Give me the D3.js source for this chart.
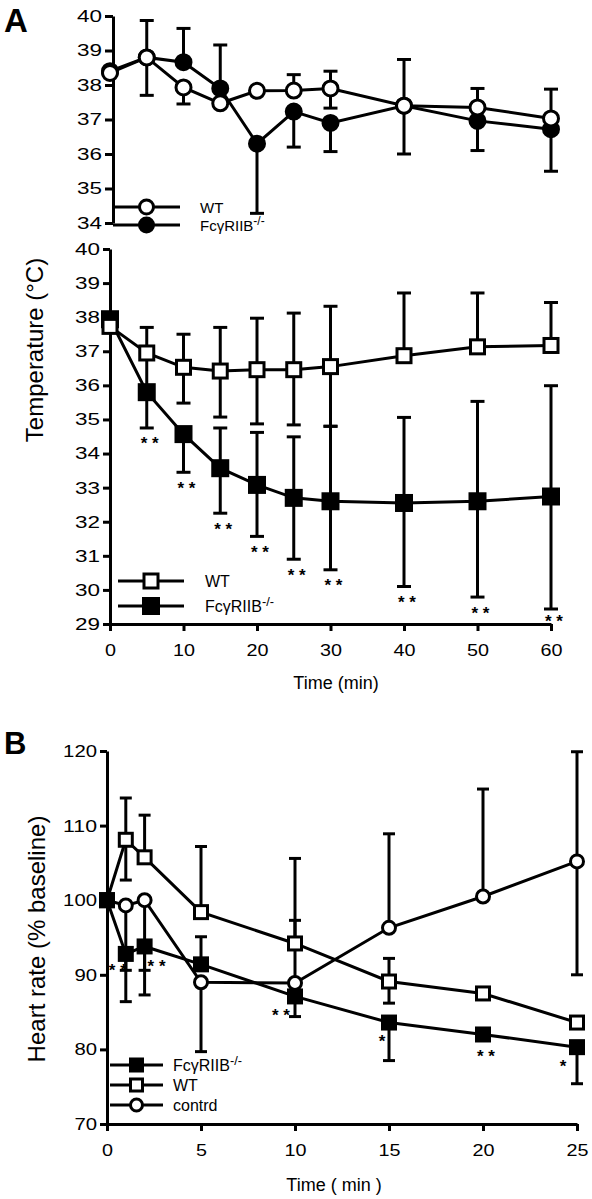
<!DOCTYPE html>
<html><head><meta charset="utf-8">
<script src="https://cdn.jsdelivr.net/npm/d3@7"></script>
<style>
body{margin:0;background:#fff;}
svg text{font-family:"Liberation Sans",Arial,Helvetica,sans-serif;fill:#000;}
</style></head><body>
<svg id="c" width="592" height="1199"></svg>
<script>
// ---------- DATA ----------
const timeA = [0,5,10,15,20,25,30,40,50,60];
const timeATicks = [0,10,20,30,40,50,60];
const tempTopTicks = [34,35,36,37,38,39,40];
const tempBotTicks = [29,30,31,32,33,34,35,36,37,38,39,40];

// Panel A top (circles)
const topWT   = [38.35,38.8,37.93,37.47,37.83,37.84,37.9,37.4,37.35,37.03];
const topWTHi = [null,39.87,null,null,null,38.3,38.4,38.74,37.9,37.88];
const topWTLo = [null,37.7,37.45,null,null,null,37.33,null,null,null];
const topKO   = [38.4,38.8,38.66,37.9,36.3,37.23,36.9,37.4,36.96,36.72];
const topKOHi = [null,null,39.64,39.16,null,null,null,null,null,null];
const topKOLo = [null,null,null,null,34.28,36.2,36.07,36.0,36.1,35.5];

// Panel A bottom (squares)
const botWT   = [37.73,36.95,36.53,36.42,36.46,36.46,36.55,36.87,37.13,37.17];
const botWTHi = [null,37.7,37.5,37.7,37.97,38.12,38.32,38.71,38.71,38.43];
const botWTLo = [null,35.8,35.48,35.07,34.87,34.84,34.8,null,null,null];
const botKO   = [37.94,35.8,34.57,33.57,33.08,32.7,32.6,32.55,32.6,32.74];
const botKOHi = [null,null,null,34.75,34.62,34.49,34.8,35.06,35.53,35.99];
const botKOLo = [null,34.75,33.45,32.25,31.57,30.9,30.59,30.1,29.79,29.44];
const botKOStars = ["","* *","* *","* *","* *","* *","* *","* *","* *","* *"];

// Panel B
const timeB = [0,1,2,5,10,15,20,25];
const timeBTicks = [0,5,10,15,20,25];
const hrTicks = [70,80,90,100,110,120];
const hrKO     = [100,92.8,93.8,91.4,87.1,83.6,82.0,80.3];
const hrKOHi   = [null,null,null,95.1,null,null,null,null];
const hrKOLo   = [null,86.4,87.3,null,84.4,78.5,null,75.4];
const hrWT     = [100,108.1,105.75,98.4,94.2,89.1,87.5,83.6];
const hrWTHi   = [null,113.7,111.4,107.2,105.6,92.2,null,null];
const hrWTLo   = [null,102.7,null,null,null,86.2,null,null];
const hrCtrl   = [100,99.3,100,89.0,88.9,96.3,100.5,105.2];
const hrCtrlHi = [null,null,null,null,97.3,108.9,114.9,119.9];
const hrCtrlLo = [null,90.6,90.6,79.7,null,null,null,90.0];
const hrKOStars = ["","* *","* *","","* *","*","* *","*"];

const legendA = ["WT","FcγRIIB"];
const legendB = ["FcγRIIB","WT","contrd"];

// ---------- DRAW ----------
const svg = d3.select("#c");
const SW = 3;
const TICK_FS = 17;

const xA = d3.scaleLinear().domain([0,60]).range([110,551]);
const yTop = d3.scaleLinear().domain([34,40]).range([223,16]);
const yBot = d3.scaleLinear().domain([29,40]).range([624,249]);
const xB = d3.scaleLinear().domain([0,25]).range([107,577]);
const yB = d3.scaleLinear().domain([70,120]).range([1124,751]);
const fmt = d3.format("d");

function styleAxis(g, fs, perChar){
  g.selectAll("path").attr("stroke","#000").attr("stroke-width",SW);
  g.selectAll("line").attr("stroke","#000").attr("stroke-width",SW);
  g.selectAll("text").attr("font-size",fs).attr("fill","#000")
    .attr("textLength",function(){return this.textContent.length*perChar;})
    .attr("lengthAdjust","spacingAndGlyphs");
}

function errBars(g, x, y, t, v, hi, lo, cap){
  t.forEach((tt,i)=>{
    [hi[i],lo[i]].forEach(e=>{
      if(e===null||e===undefined) return;
      g.append("line").attr("x1",x(tt)).attr("x2",x(tt)).attr("y1",y(v[i])).attr("y2",y(e))
        .attr("stroke","#000").attr("stroke-width",SW);
      g.append("line").attr("x1",x(tt)-cap/2).attr("x2",x(tt)+cap/2).attr("y1",y(e)).attr("y2",y(e))
        .attr("stroke","#000").attr("stroke-width",SW);
    });
  });
}
function seriesLine(g, x, y, t, v){
  g.append("path").datum(t.map((tt,i)=>[tt,v[i]]))
    .attr("d", d3.line().x(d=>x(d[0])).y(d=>y(d[1])))
    .attr("fill","none").attr("stroke","#000").attr("stroke-width",SW);
}
function markers(g, x, y, t, v, shape, fill, size){
  t.forEach((tt,i)=>{
    drawMarker(g, x(tt), y(v[i]), shape, fill, size);
  });
}
function drawMarker(g, cx, cy, shape, fill, size){
  if(shape==="circle"){
    g.append("circle").attr("cx",cx).attr("cy",cy).attr("r",size/2)
      .attr("fill",fill).attr("stroke","#000").attr("stroke-width",SW);
  } else {
    g.append("rect").attr("x",cx-size/2).attr("y",cy-size/2).attr("width",size).attr("height",size)
      .attr("fill",fill).attr("stroke","#000").attr("stroke-width",SW);
  }
}
function legendItem(g, x1, x2, y, shape, fill, size, label, tx, fs){
  g.append("line").attr("x1",x1).attr("x2",x2).attr("y1",y).attr("y2",y).attr("stroke","#000").attr("stroke-width",SW);
  drawMarker(g,(x1+x2)/2,y,shape,fill,size);
  const t = g.append("text").attr("x",tx).attr("y",y+6).attr("font-size",fs);
  t.append("tspan").text(label);
  if(label.startsWith("Fc")){
    t.append("tspan").attr("font-size",fs*0.8).attr("dy",-6).text("-/-");
  }
}
function star(g, cx, cy, s){
  // cx, cy = visual centre of the asterisks
  g.append("text").attr("x",cx).attr("y",cy+9.5).attr("text-anchor","middle")
    .attr("font-size",17).attr("font-weight","bold").text(s);
}

// Panel letters
svg.append("text").attr("x",4).attr("y",32).attr("font-size",33).attr("font-weight","bold").text("A");
svg.append("text").attr("x",4).attr("y",754).attr("font-size",31).attr("font-weight","bold").text("B");

// ===== Panel A top =====
const gT = svg.append("g");
gT.append("g").attr("transform","translate(113,0)")
  .call(d3.axisLeft(yTop).tickValues(tempTopTicks).tickFormat(fmt).tickSize(8).tickSizeOuter(0).tickPadding(3))
  .call(g=>styleAxis(g,TICK_FS,12.5));
errBars(gT,xA,yTop,timeA,topWT,topWTHi,topWTLo,14);
errBars(gT,xA,yTop,timeA,topKO,topKOHi,topKOLo,14);
seriesLine(gT,xA,yTop,timeA,topKO);
seriesLine(gT,xA,yTop,timeA,topWT);
markers(gT,xA,yTop,timeA,topKO,"circle","#000",15);
markers(gT,xA,yTop,timeA,topWT,"circle","#fff",15);
legendItem(gT,113,180,207,"circle","#fff",14,legendA[0],200,15);
legendItem(gT,113,180,225,"circle","#000",14,legendA[1],200,15);

// ===== Panel A bottom =====
const gB = svg.append("g");
gB.append("g").attr("transform","translate(110,0)")
  .call(d3.axisLeft(yBot).tickValues(tempBotTicks).tickFormat(fmt).tickSize(7).tickSizeOuter(0).tickPadding(3))
  .call(g=>styleAxis(g,TICK_FS,12.5));
gB.append("g").attr("transform","translate(0,624)")
  .call(d3.axisBottom(xA).tickValues(timeATicks).tickFormat(fmt).tickSize(7).tickSizeOuter(0).tickPadding(13))
  .call(g=>styleAxis(g,TICK_FS,11));
errBars(gB,xA,yBot,timeA,botWT,botWTHi,botWTLo,14);
errBars(gB,xA,yBot,timeA,botKO,botKOHi,botKOLo,14);
seriesLine(gB,xA,yBot,timeA,botKO);
seriesLine(gB,xA,yBot,timeA,botWT);
markers(gB,xA,yBot,timeA,botKO,"rect","#000",15);
markers(gB,xA,yBot,timeA,botWT,"rect","#fff",14);
timeA.forEach((t,i)=>{
  if(!botKOStars[i]) return;
  star(gB, xA(t)+3, Math.min(yBot(botKOLo[i])+12, yBot(29)-7), botKOStars[i]);
});
legendItem(gB,118,184,581,"rect","#fff",14,legendA[0],205,16);
legendItem(gB,118,184,606,"rect","#000",15,legendA[1],205,16);
svg.append("text").attr("x",336).attr("y",689).attr("text-anchor","middle").attr("font-size",18).text("Time (min)");
svg.append("text").attr("transform","translate(43,350) rotate(-90)").attr("text-anchor","middle").attr("font-size",24).text("Temperature (°C)");

// ===== Panel B =====
const gH = svg.append("g");
gH.append("g").attr("transform","translate(107,0)")
  .call(d3.axisLeft(yB).tickValues(hrTicks).tickFormat(fmt).tickSize(7).tickSizeOuter(0).tickPadding(3))
  .call(g=>styleAxis(g,TICK_FS,11.3));
gH.append("g").attr("transform","translate(0,1124)")
  .call(d3.axisBottom(xB).tickValues(timeBTicks).tickFormat(fmt).tickSize(7).tickSizeOuter(0).tickPadding(13))
  .call(g=>styleAxis(g,TICK_FS,11));
errBars(gH,xB,yB,timeB,hrWT,hrWTHi,hrWTLo,12);
errBars(gH,xB,yB,timeB,hrCtrl,hrCtrlHi,hrCtrlLo,12);
errBars(gH,xB,yB,timeB,hrKO,hrKOHi,hrKOLo,12);
seriesLine(gH,xB,yB,timeB,hrWT);
seriesLine(gH,xB,yB,timeB,hrCtrl);
seriesLine(gH,xB,yB,timeB,hrKO);
markers(gH,xB,yB,timeB,hrWT,"rect","#fff",13);
markers(gH,xB,yB,timeB,hrCtrl,"circle","#fff",13);
markers(gH,xB,yB,timeB,hrKO,"rect","#000",13);
// annotation offsets (px) of the significance marks relative to each FcγRIIB point
const starOffsetB = {1:[-8,13],2:[12,16],4:[-14,15],5:[-7,15],6:[3,18],7:[-14,15]};
timeB.forEach((t,i)=>{
  if(!hrKOStars[i]) return;
  const o = starOffsetB[i];
  star(gH, xB(t)+o[0], yB(hrKO[i])+o[1], hrKOStars[i]);
});
legendItem(gH,110,163,1065,"rect","#000",12,legendB[0],173,16);
legendItem(gH,110,163,1085,"rect","#fff",12,legendB[1],173,16);
legendItem(gH,110,163,1105,"circle","#fff",12,legendB[2],173,16);
svg.append("text").attr("x",334).attr("y",1191).attr("text-anchor","middle").attr("font-size",18).text("Time ( min )");
svg.append("text").attr("transform","translate(45,939) rotate(-90)").attr("text-anchor","middle").attr("font-size",24).text("Heart rate (% baseline)");
</script>
</body></html>
